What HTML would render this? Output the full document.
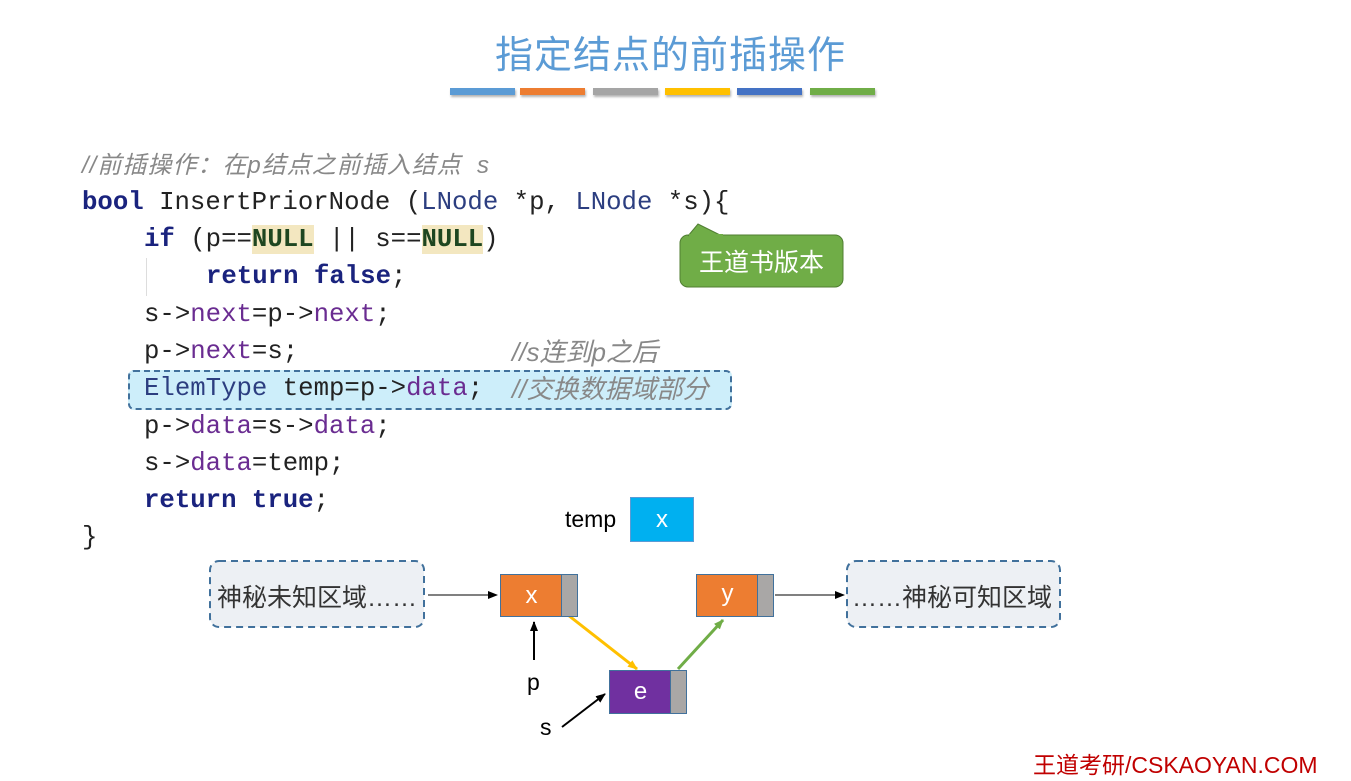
<!DOCTYPE html>
<html><head><meta charset="utf-8"><style>
body{margin:0;width:1351px;height:781px;background:#fff;position:relative;overflow:hidden;font-family:"Liberation Sans","Noto Sans CJK SC",sans-serif}
.a{position:absolute;white-space:pre}
.code{font-family:"Liberation Mono","Noto Sans CJK SC",monospace;font-size:25.7px;color:#222;line-height:30px}
.kw{color:#1a237e;font-weight:bold}
.pu{color:#6a2c91}
.ty{color:#2c3e80}
.cm{color:#888;font-style:italic;font-family:"Liberation Sans","Noto Sans CJK SC",sans-serif;font-size:26px}
.nl{background:#f3e7c0;color:#1e4620;font-weight:bold}
.bar{position:absolute;top:88px;height:7px;width:65px;box-shadow:1px 2px 2px rgba(0,0,0,.3)}
.box{position:absolute;border:1px solid #41719c;color:#fff;font-size:24px;text-align:center}
</style></head><body>
<div class="a" style="left:495px;top:24px;font-size:38px;color:#5b9bd5;font-family:'Noto Sans CJK SC',sans-serif;letter-spacing:1px">指定结点的前插操作</div>
<div class="bar" style="left:450px;background:#5b9bd5"></div>
<div class="bar" style="left:520px;background:#ed7d31"></div>
<div class="bar" style="left:593px;background:#a5a5a5"></div>
<div class="bar" style="left:665px;background:#ffc000"></div>
<div class="bar" style="left:737px;background:#4472c4"></div>
<div class="bar" style="left:810px;background:#70ad47"></div>

<div class="a" style="left:128px;top:370px;width:604px;height:40px;background:#cdeefa;border:2px dashed #41719c;border-radius:6px;box-sizing:border-box"></div>
<div class="a" style="left:146px;top:258px;width:1px;height:38px;background:#ddd"></div>

<div class="a cm" style="left:82px;top:151px;line-height:30px;font-size:24px;letter-spacing:1px">//前插操作：在<i>p</i>结点之前插入结点  s</div>
<div class="a code" style="left:82px;top:188px"><span class="kw">bool</span> InsertPriorNode (<span class="ty">LNode</span> *p, <span class="ty">LNode</span> *s){</div>
<div class="a code" style="left:144px;top:225px"><span class="kw">if</span> (p==<span class="nl">NULL</span> || s==<span class="nl">NULL</span>)</div>
<div class="a code" style="left:206px;top:262px"><span class="kw">return false</span>;</div>
<div class="a code" style="left:144px;top:300px">s-&gt;<span class="pu">next</span>=p-&gt;<span class="pu">next</span>;</div>
<div class="a code" style="left:144px;top:337px">p-&gt;<span class="pu">next</span>=s;</div>
<div class="a cm" style="left:512px;top:337px;line-height:30px">//s连到p之后</div>
<div class="a code" style="left:144px;top:374px"><span class="ty">ElemType</span> temp=p-&gt;<span class="pu">data</span>;</div>
<div class="a cm" style="left:512px;top:374px;line-height:30px">//交换数据域部分</div>
<div class="a code" style="left:144px;top:412px">p-&gt;<span class="pu">data</span>=s-&gt;<span class="pu">data</span>;</div>
<div class="a code" style="left:144px;top:449px">s-&gt;<span class="pu">data</span>=temp;</div>
<div class="a code" style="left:144px;top:486px"><span class="kw">return true</span>;</div>
<div class="a code" style="left:82px;top:523px">}</div>

<svg class="a" style="left:0;top:0" width="1351" height="781">
<defs>
<marker id="ab" markerUnits="userSpaceOnUse" markerWidth="10" markerHeight="10" refX="9" refY="4" orient="auto"><path d="M0,0L10,4L0,8z" fill="#000"/></marker>
<marker id="ay" markerUnits="userSpaceOnUse" markerWidth="10" markerHeight="10" refX="9" refY="4" orient="auto"><path d="M0,0L10,4L0,8z" fill="#ffc000"/></marker>
<marker id="ag" markerUnits="userSpaceOnUse" markerWidth="10" markerHeight="10" refX="9" refY="4" orient="auto"><path d="M0,0L10,4L0,8z" fill="#70ad47"/></marker></defs>
<rect x="680" y="235" width="163" height="52" rx="8" fill="#70ad47" stroke="#507e32"/>
<path d="M688,236 L698,224 L722,236" fill="#70ad47" stroke="#507e32"/>
<rect x="689" y="234" width="34" height="4" fill="#70ad47"/>
<rect x="210" y="561" width="214" height="66" rx="9" fill="#edf0f4" stroke="#41719c" stroke-width="2" stroke-dasharray="7,5"/>
<rect x="847" y="561" width="213" height="66" rx="9" fill="#edf0f4" stroke="#41719c" stroke-width="2" stroke-dasharray="7,5"/>
<line x1="428" y1="595" x2="497" y2="595" stroke="#000" marker-end="url(#ab)"/>
<line x1="775" y1="595" x2="844" y2="595" stroke="#000" marker-end="url(#ab)"/>
<line x1="534" y1="660" x2="534" y2="622" stroke="#000" stroke-width="2" marker-end="url(#ab)"/>
<line x1="562" y1="727" x2="605" y2="694" stroke="#000" stroke-width="2" marker-end="url(#ab)"/>
<line x1="568" y1="615" x2="637" y2="669" stroke="#ffc000" stroke-width="3" marker-end="url(#ay)"/>
<line x1="678" y1="669" x2="723" y2="620" stroke="#70ad47" stroke-width="3" marker-end="url(#ag)"/>
</svg>
<div class="a" style="left:680px;top:243px;width:163px;text-align:center;color:#fff;font-size:25px">王道书版本</div>
<div class="a" style="left:217px;top:578px;font-size:25px;color:#333">神秘未知区域……</div>
<div class="a" style="left:852px;top:578px;font-size:25px;color:#333">……神秘可知区域</div>

<div class="a" style="left:565px;top:506px;font-size:23px">temp</div>
<div class="box" style="left:630px;top:497px;width:62px;height:43px;line-height:43px;background:#00b0f0;border-color:#5b9bd5">x</div>
<div class="box" style="left:500px;top:574px;width:61px;height:41px;line-height:41px;background:#ed7d31">x</div>
<div class="box" style="left:561px;top:574px;width:15px;height:41px;background:#a9a7a6"></div>
<div class="box" style="left:696px;top:574px;width:61px;height:41px;line-height:38px;background:#ed7d31">y</div>
<div class="box" style="left:757px;top:574px;width:15px;height:41px;background:#a9a7a6"></div>
<div class="box" style="left:609px;top:670px;width:61px;height:42px;line-height:42px;background:#7030a0">e</div>
<div class="box" style="left:670px;top:670px;width:15px;height:42px;background:#a9a7a6"></div>
<div class="a" style="left:527px;top:669px;font-size:23px">p</div>
<div class="a" style="left:540px;top:714px;font-size:23px">s</div>
<div class="a" style="left:1033px;top:746px;font-size:23px;color:#c00000">王道考研/CSKAOYAN.COM</div>
</body></html>
